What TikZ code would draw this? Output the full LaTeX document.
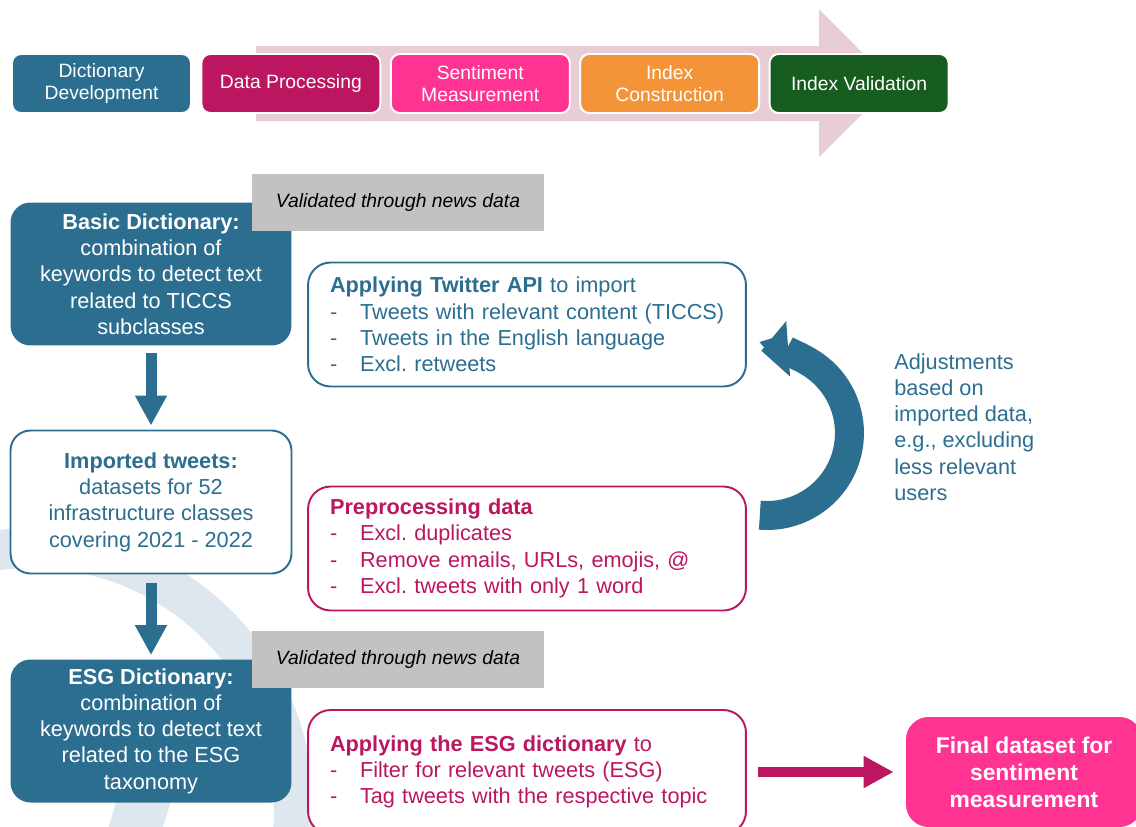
\documentclass[tikz,border=0pt]{standalone}
\usepackage{fontspec}
\setmainfont{Liberation Sans}
\usetikzlibrary{positioning,arrows.meta}

\definecolor{dictblue}{HTML}{2C6E8F}
\definecolor{procred}{HTML}{BC1660}
\definecolor{sentpink}{HTML}{FF3392}
\definecolor{idxorange}{HTML}{F49439}
\definecolor{valgreen}{HTML}{175D20}
\definecolor{notegray}{HTML}{C1C2C1}
\definecolor{bandpink}{HTML}{E8CED4}
\definecolor{markblue}{HTML}{DFE7EE}

\frenchspacing
\newcommand{\dashitem}[1]{\mbox{\makebox[0.6cm][l]{-}#1}}

\begin{document}
\begin{tikzpicture}[x=0.02cm, y=0.02cm, font=\fontsize{12.35}{14.95}\selectfont,
		stage/.style={draw=white, line width=1.1pt, rounded corners=0.18cm, minimum width=3.58cm, minimum height=1.18cm, inner sep=0pt, text=white, align=center, font=\fontsize{11}{12.6}\selectfont},
		dictbox/.style={rounded corners=0.4cm, minimum width=5.62cm, minimum height=2.86cm, inner sep=0pt, align=center},
		stepbox/.style={draw, line width=1.1pt, fill=white, rounded corners=0.45cm, text width=7.88cm, inner xsep=0.44cm, inner ysep=0pt, minimum height=2.48cm, align=left},
		newsnote/.style={fill=notegray, minimum width=5.84cm, minimum height=1.14cm, inner sep=0pt, font=\fontsize{11}{13}\selectfont\itshape},
		blockarrow/.style={line width=0.22cm, -{Triangle[width=0.6cm,length=0.6cm]}}]
	\useasboundingbox (0,0) rectangle (1136,-826);
	\clip (0,0) rectangle (1136,-826);
	
	% Faint logo arcs in the background
	\draw[markblue, line width=0.8cm] (32,-810) ++(105:5.24cm) arc[start angle=105, end angle=-12, radius=5.24cm];
	\fill[markblue] (108,-830) -- (117,-798) -- (172,-798) -- (162,-830) -- cycle;
	
	% Process band behind the stages
	\fill[bandpink] (256,-46) -- (819,-46) -- (819,-9) -- (893,-83.5) -- (819,-157) -- (819,-121) -- (256,-121) -- cycle;
	
	% Stages
	\node[stage, fill=dictblue] (dictdev) at (101.5,-83.5) {Dictionary\\Development};
	\node[stage, fill=procred, right=0.17cm of dictdev] (dataproc) {Data Processing};
	\node[stage, fill=sentpink, right=0.17cm of dataproc] (sentmeas) {Sentiment\\Measurement};
	\node[stage, fill=idxorange, right=0.17cm of sentmeas] (indexcon) {Index\\Construction};
	\node[stage, fill=valgreen, right=0.17cm of indexcon] (indexval) {Index Validation};
	
	% Dictionaries and imported tweets
	\node[dictbox, fill=dictblue, text=white] (basicdict) at (151,-274) {\textbf{Basic Dictionary:}\\combination of\\keywords to detect text\\related to TICCS\\subclasses};
	\node[dictbox, draw=dictblue, line width=1.1pt, fill=white, text=dictblue] (imported) at (151,-502) {\textbf{Imported tweets:}\\datasets for 52\\infrastructure classes\\covering 2021 - 2022};
	\node[dictbox, fill=dictblue, text=white] (esgdict) at (151,-731) {\textbf{ESG Dictionary:}\\combination of\\keywords to detect text\\related to the ESG\\taxonomy};
	
	\node[newsnote] (newsbasic) at (398,-202.5) {Validated through news data};
	\node[newsnote] (newsesg) at (398,-659.5) {Validated through news data};
	
	\draw[blockarrow, dictblue] ([yshift=-0.14cm]basicdict.south) -- ([yshift=0.08cm]imported.north);
	\draw[blockarrow, dictblue] ([yshift=-0.18cm]imported.south) -- ([yshift=0.08cm]esgdict.north);
	
	% Processing steps
	\node[stepbox, draw=dictblue, text=dictblue] (twitterapi) at (527,-324.5) {\textbf{Applying Twitter API} to import\\\dashitem{Tweets with relevant content (TICCS)}\\\dashitem{Tweets in the English language}\\\dashitem{Excl. retweets}};
	\node[stepbox, draw=procred, text=procred] (preproc) at (527,-548.5) {\textbf{Preprocessing data}\\\dashitem{Excl. duplicates}\\\dashitem{Remove emails, URLs, emojis, @}\\\dashitem{Excl. tweets with only 1 word}};
	\node[stepbox, draw=procred, text=procred] (esgapply) at (527,-772) {\textbf{Applying the ESG dictionary} to\\\dashitem{Filter for relevant tweets (ESG)}\\\dashitem{Tag tweets with the respective topic}};
	
	\node[fill=sentpink, rounded corners=0.45cm, minimum width=4.72cm, minimum height=2.2cm, inner sep=0pt, align=center, text=white, font=\fontsize{13}{15.3}\selectfont\bfseries] (finaldata) at (1024,-772) {Final dataset for\\sentiment\\measurement};
	\draw[procred, line width=0.2cm, -{Triangle[width=0.6cm,length=0.6cm]}] ([xshift=0.22cm]esgapply.east) -- ([xshift=-0.24cm]finaldata.west);
	
	% Feedback loop
	\draw[dictblue, line width=0.58cm, -{Triangle[width=1.08cm,length=0.54cm]}] (767,-433) ++(-95:1.65cm) arc[start angle=-95, end angle=94, radius=1.65cm];
	\node[anchor=west, align=left, inner sep=0pt, text=dictblue] (adjust) at (894,-427) {Adjustments\\based on\\imported data,\\e.g., excluding\\less relevant\\users};
\end{tikzpicture}
\end{document}
